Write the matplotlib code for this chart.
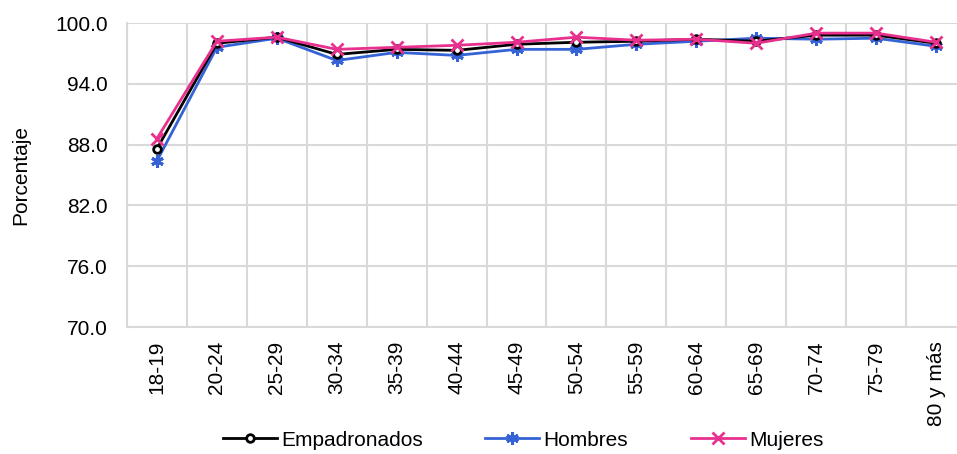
import matplotlib
matplotlib.use("Agg")
import matplotlib.pyplot as plt
import numpy as np

plt.rcParams['font.family'] = ['Liberation Sans', 'DejaVu Sans']

categories = ["18-19", "20-24", "25-29", "30-34", "35-39", "40-44", "45-49",
              "50-54", "55-59", "60-64", "65-69", "70-74", "75-79", "80 y más"]
empadronados = [87.6, 98.0, 98.6, 96.9, 97.4, 97.3, 97.9, 98.1, 98.2, 98.4, 98.2, 98.8, 98.8, 98.0]
hombres = [86.4, 97.6, 98.5, 96.3, 97.1, 96.8, 97.4, 97.4, 97.9, 98.2, 98.5, 98.4, 98.5, 97.7]
mujeres = [88.6, 98.2, 98.6, 97.4, 97.6, 97.8, 98.1, 98.6, 98.3, 98.4, 98.0, 99.0, 99.0, 98.1]
yticks = [70.0, 76.0, 82.0, 88.0, 94.0, 100.0]

fig = plt.figure(figsize=(9.57, 4.54), dpi=100)
ax = fig.add_axes([127/957, 1-327/454, 839/957, 304/454])
x = np.arange(len(categories))

ax.plot(x, empadronados, color='black', lw=2.0, marker='o', ms=5.5, mfc='white',
        mec='black', mew=2.0, label='Empadronados', zorder=3)
ax.plot(x, hombres, color='#3563D6', lw=2.0, marker=(6, 2, 0), ms=9, mew=2.2,
        label='Hombres', zorder=2)
ax.plot(x, mujeres, color='#E8318E', lw=2.0, marker='x', ms=8, mew=2.0,
        label='Mujeres', zorder=4)

ax.set_xlim(-0.5, len(categories) - 0.5)
ax.set_ylim(70, 100)
ax.set_yticks(yticks)
ax.set_yticklabels([f"{v:.1f}" for v in yticks], fontsize=15)
ax.set_xticks(x)
ax.set_xticklabels(categories, rotation=90, fontsize=15)
ax.set_xticks(np.arange(-0.5, len(categories), 1), minor=True)
ax.tick_params(axis='both', which='both', length=0)
ax.tick_params(axis='x', pad=10)
ax.tick_params(axis='y', pad=14)
ax.grid(True, which='minor', axis='x', color='#d9d9d9', lw=1.5)
ax.grid(True, which='major', axis='y', color='#d9d9d9', lw=1.5)
ax.set_axisbelow(True)
for s in ['top', 'right']:
    ax.spines[s].set_visible(False)
for s in ['left', 'bottom']:
    ax.spines[s].set_color('#d9d9d9')
    ax.spines[s].set_linewidth(1.5)

ax.set_ylabel('Porcentaje', fontsize=15, labelpad=18)

fig.legend(loc='center', bbox_to_anchor=(523/957, 1-440/454), ncol=3, frameon=False,
           fontsize=15, handlelength=2.6, handletextpad=0.2, columnspacing=3.0)

fig.savefig('out.png', dpi=100)
